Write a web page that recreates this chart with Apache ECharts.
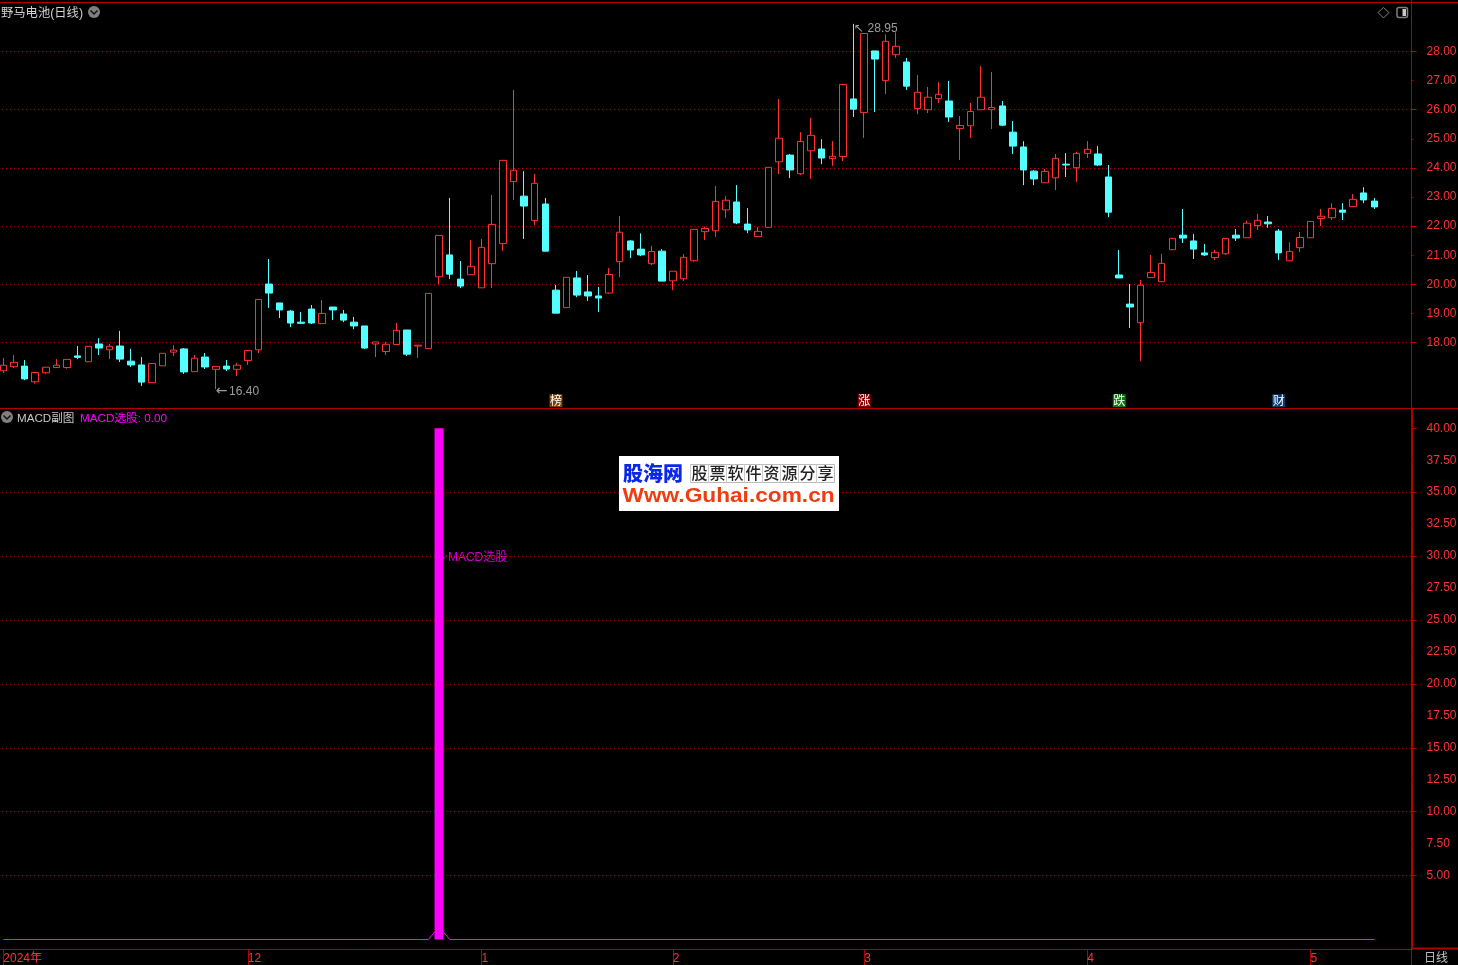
<!DOCTYPE html>
<html>
<head>
<meta charset="utf-8">
<style>html,body{margin:0;padding:0;background:#000}#c{width:1458px;height:965px}</style>
<script src="https://cdn.jsdelivr.net/npm/echarts@6/dist/echarts.min.js"></script>
</head>
<body>
<div id="c"></div>
<script>
const opens=[17.03,17.17,17.19,16.65,16.96,17.14,17.14,17.54,17.34,17.95,17.75,17.88,17.36,17.23,16.62,17.20,17.67,17.78,17.00,17.50,
17.08,17.19,17.08,17.38,17.75,20.01,19.36,19.08,18.70,19.15,18.65,19.22,18.98,18.70,18.57,17.95,17.69,17.93,18.43,17.88,
17.79,20.26,21.01,20.18,20.33,19.88,20.71,21.40,23.53,23.03,22.19,22.76,19.80,19.20,20.22,19.74,19.60,19.70,20.78,21.49,
21.21,20.71,21.14,20.12,20.19,20.81,21.81,21.84,22.56,22.83,22.07,21.64,21.96,24.21,24.44,23.80,24.59,24.65,24.32,24.39,
26.37,25.90,28.02,27.00,27.89,27.64,26.04,26.00,26.38,26.30,25.35,25.45,26.00,26.00,26.13,25.23,24.72,23.89,23.49,23.66,
24.13,24.01,24.50,24.48,23.69,20.32,19.32,18.68,20.23,20.09,21.19,21.69,21.49,21.08,20.92,21.05,21.69,21.60,22.02,22.14,
21.83,20.81,21.26,21.60,22.26,22.29,22.55,22.67,23.14,22.86];
const closes=[17.22,17.32,16.75,16.97,17.15,17.22,17.42,17.49,17.87,17.81,17.87,17.43,17.23,16.64,17.28,17.63,17.74,16.99,17.46,17.16,
17.18,17.09,17.22,17.73,19.48,19.70,19.12,18.67,18.66,18.67,19.00,19.12,18.77,18.57,17.81,18.02,17.94,18.42,17.60,17.91,
19.69,21.68,20.35,19.94,20.62,21.27,22.06,24.26,23.92,22.69,23.47,21.14,19.01,20.24,19.63,19.60,19.53,20.34,21.79,21.18,
21.01,21.13,20.11,20.45,20.93,21.89,21.92,22.85,22.89,22.11,21.87,21.82,24.02,25.02,23.93,24.91,25.12,24.34,24.40,26.87,
26.02,28.62,27.74,28.35,28.18,26.81,26.60,26.43,26.53,25.75,25.46,25.94,26.43,26.08,25.47,24.75,23.93,23.62,23.88,24.33,
24.10,24.50,24.64,24.10,22.48,20.22,19.22,19.97,20.41,20.72,21.58,21.59,21.21,21.01,21.10,21.58,21.59,22.10,22.20,22.08,
21.08,21.13,21.61,22.16,22.34,22.61,22.48,22.92,22.90,22.66];
const lows=[16.95,17.12,16.71,16.59,16.93,17.14,17.10,17.43,17.34,17.57,17.43,17.33,17.16,16.51,16.62,17.20,17.54,16.92,17.00,17.09,
16.40,17.02,16.85,17.23,17.64,19.19,18.84,18.53,18.64,18.64,18.65,18.77,18.70,18.46,17.78,17.50,17.57,17.93,17.54,17.47,
17.79,20.01,20.18,19.87,20.33,19.88,19.87,21.14,22.90,21.56,22.04,21.14,19.01,19.20,19.56,19.43,19.05,19.67,20.25,20.90,
20.97,20.66,20.11,19.80,20.11,20.78,21.52,21.63,22.28,22.07,21.76,21.64,21.96,23.79,23.65,23.76,23.62,24.13,24.07,24.24,
25.75,25.03,25.92,26.54,27.78,26.68,25.85,25.89,26.23,25.58,24.27,25.03,26.00,25.34,25.44,24.48,23.41,23.41,23.49,23.24,
23.69,23.52,24.34,24.07,22.31,20.22,18.50,17.36,20.23,20.09,21.19,21.42,20.87,20.97,20.84,21.01,21.49,21.60,21.87,21.94,
20.84,20.81,21.11,21.60,22.00,22.21,22.21,22.67,22.79,22.59];
const highs=[17.47,17.57,17.40,16.97,17.15,17.43,17.42,17.88,17.87,18.15,17.95,18.40,17.78,17.50,17.28,17.63,17.91,17.81,17.57,17.64,
17.18,17.40,17.30,17.73,19.48,20.87,19.36,19.12,19.05,19.29,19.46,19.22,19.12,18.88,18.57,18.02,18.02,18.67,18.43,17.91,
19.69,21.68,22.97,20.80,21.52,21.56,23.07,24.26,26.68,23.89,23.79,22.97,19.98,20.24,20.46,20.32,19.91,20.56,22.35,21.52,
21.75,21.32,21.21,20.45,21.04,21.89,21.98,23.38,23.03,23.41,22.62,21.97,24.02,26.37,24.48,25.23,25.72,24.99,24.92,26.87,
28.95,28.62,28.02,28.59,28.66,27.78,27.19,26.78,26.95,26.99,25.78,26.23,27.50,27.30,26.30,25.61,24.92,23.93,23.96,24.48,
24.51,24.55,24.92,24.75,24.10,21.18,20.01,20.15,21.01,21.04,21.58,22.59,21.73,21.39,21.18,21.58,21.90,22.18,22.42,22.35,
21.90,21.45,21.80,22.16,22.59,22.79,22.79,23.10,23.34,22.97];
const slotCount=133;
const monthMarks={0:'2024年',23:'12',45:'1',63:'2',81:'3',102:'4',123:'5'};
const priceTicksMajor=[18,20,22,24,26,28];
const priceTicksMinor=[19,21,23,25,27];
const macdLabels=[5,7.5,10,12.5,15,17.5,20,22.5,25,27.5,30,32.5,35,37.5,40];
const macdTicksMajor=[5,10,15,20,25,30,35,40];
const macdTicksMinor=[7.5,12.5,17.5,22.5,27.5,32.5,37.5];
const macdGridLevels=[5,10,15,20,25,30,35];
const priceNotes=[[20,16.40,'←','16.40','a'],[80,28.95,'↖','28.95','b']];
const noteOffsets=[[0,2.5],[0,5]];
const eventTags=[[52,16,'榜','#7a3e00'],[81,16,'涨','#8a0000'],[105,16,'跌','#0b7a0b'],[120,16,'财','#0a3a70']];
const macdBars=[[41,40]];
const macdLine=[[0,0],[40,0],[41,1],[42,0],[129,0]];
const macdNote=[[41,30,'MACD选股']];

const RED='#ff3232',CY='#54ffff',AX='#b00000',DOT='#b40000',GR='#c0c0c0',MG='#ff00ff';
const FF='"Liberation Sans","Noto Sans CJK SC",sans-serif';
const cats=Array.from({length:slotCount},(_,i)=>monthMarks[i]!==undefined?monthMarks[i]:'');
const isMark=i=>monthMarks[i]!==undefined;
const candle=opens.map((o,i)=>[o,closes[i],lows[i],highs[i]]);
const dotted={color:DOT,type:[1,3],width:1};
const vLine=(arr)=>({silent:true,symbol:'none',z:1,animation:false,label:{show:false},lineStyle:dotted,data:arr.map(v=>({yAxis:v}))});
const hl=(x1,y1,x2,y2,w)=>({type:'line',silent:true,shape:{x1,y1,x2,y2},style:{stroke:AX,lineWidth:w||1}});
const tx=(x,y,text,fill,size,extra)=>({type:'text',silent:true,x,y,style:Object.assign({text,fill,font:(size||12)+'px '+FF,verticalAlign:'middle'},extra||{})});
const chev=(cx,cy)=>[{type:'circle',silent:true,shape:{cx,cy,r:6},style:{fill:'#808080'}},
 {type:'polyline',silent:true,shape:{points:[[cx-3.5,cy-1.5],[cx,cy+2],[cx+3.5,cy-1.5]]},style:{stroke:'#111',fill:null,lineWidth:1.5}}];
const cellTexts='股票软件资源分享'.split('');
const graphics=[
 hl(0,2.5,1458,2.5),hl(0,408.5,1458,408.5),hl(1411.5,949,1411.5,965),hl(1412,948.5,1458,948.5,2),
 tx(1,13.5,'野马电池(日线)','#d0d0d0',12.3),
 ...chev(94,12),...chev(7,417),
 tx(17,418.5,'MACD副图','#c8c8c8',11.6),tx(80,418.5,'MACD选股: 0.00',MG,11.7),
 tx(1424,958.5,'日线','#c0c0c0',12),
 {type:'polygon',silent:true,shape:{points:[[1383.5,7.5],[1389,12.5],[1383.5,18],[1378,12.5]]},style:{stroke:'#808080',fill:null,lineWidth:1}},
 {type:'rect',silent:true,shape:{x:1397,y:7.5,width:10.5,height:10,r:2},style:{stroke:'#808080',fill:'#000',lineWidth:1.5}},
 {type:'rect',silent:true,shape:{x:1402.5,y:9,width:3.5,height:7},style:{fill:'#c8c8c8'}},
 {type:'rect',silent:true,z:50,shape:{x:619,y:456,width:220,height:55},style:{fill:'#fff'}},
 {type:'text',silent:true,z:51,x:623,y:473.5,style:{text:'股海网',fill:'#0a28e6',font:'900 20px "Noto Sans CJK SC"',verticalAlign:'middle'}},
 {type:'rect',silent:true,z:51,shape:{x:690.5,y:464.5,width:144,height:18},style:{stroke:'#bbb',fill:'#fff',lineWidth:1}},
 ...cellTexts.map((c,i)=>({type:'line',silent:true,z:51,shape:{x1:690.5+18*i,y1:464.5,x2:690.5+18*i,y2:482.5},style:{stroke:'#ccc',lineWidth:1}})),
 ...cellTexts.map((c,i)=>({type:'text',silent:true,z:52,x:699.5+18*i,y:472.5,style:{text:c,fill:'#222',font:'500 16px "Noto Sans CJK SC"',align:'center',verticalAlign:'middle'}})),
 {type:'text',silent:true,z:51,x:622.5,y:496.5,scaleX:1.134,style:{text:'Www.Guhai.com.cn',fill:'#f03c10',font:'bold 20px "Liberation Sans"',verticalAlign:'middle'}}
];
const chart=echarts.init(document.getElementById('c'),null,{renderer:'canvas'});
const yBase=(gi,min,max,w)=>({type:'value',gridIndex:gi,position:'right',min,max,scale:true,splitLine:{show:false},
 axisLine:{show:true,onZero:false,lineStyle:{color:AX,width:w||1}}});
chart.setOption({
 animation:false,backgroundColor:'#000',
 textStyle:{fontFamily:FF},
 graphic:graphics,
 grid:[{outerBoundsMode:'none',left:-2,width:1413.5,top:0.6,height:407.4},{outerBoundsMode:'none',left:-2,width:1413.5,top:409.1,height:540}],
 xAxis:[
  {type:'category',gridIndex:0,data:cats,show:false,boundaryGap:true},
  {type:'category',gridIndex:1,data:cats,boundaryGap:true,
   axisLine:{show:true,onZero:false,lineStyle:{color:AX}},
   axisTick:{show:true,alignWithLabel:true,length:16,interval:i=>isMark(i),lineStyle:{color:AX}},
   axisLabel:{show:true,interval:i=>isMark(i),color:RED,fontSize:12,align:'left',margin:4,padding:0,hideOverlap:false,fontFamily:FF},
   splitLine:{show:false}}
 ],
 yAxis:[
  Object.assign(yBase(0,15.75,29.75),{axisTick:{show:true,length:5,customValues:priceTicksMajor,lineStyle:{color:AX}},
   axisLabel:{show:true,color:RED,fontSize:12,margin:15,padding:[3,0,0,0],customValues:priceTicksMajor.concat(priceTicksMinor).sort((a,b)=>a-b),formatter:v=>v.toFixed(2),fontFamily:FF}}),
  Object.assign(yBase(0,15.75,29.75),{axisTick:{show:true,length:2,customValues:priceTicksMinor,lineStyle:{color:AX}},axisLabel:{show:false}}),
  Object.assign(yBase(1,-0.75,41.5,2),{axisTick:{show:true,length:5,customValues:macdTicksMajor,lineStyle:{color:AX}},
   axisLabel:{show:true,color:RED,fontSize:12,margin:15,padding:[3,0,0,0],customValues:macdLabels,formatter:v=>v.toFixed(2),fontFamily:FF}}),
  Object.assign(yBase(1,-0.75,41.5,2),{axisTick:{show:true,length:2,customValues:macdTicksMinor,lineStyle:{color:AX}},axisLabel:{show:false}})
 ],
 series:[
  {type:'candlestick',name:'K',xAxisIndex:0,yAxisIndex:0,data:candle,barWidth:7,z:3,
   itemStyle:{color:'#000',color0:CY,borderColor:RED,borderColor0:CY,borderWidth:1},
   markLine:vLine(priceTicksMajor)},
  {type:'scatter',xAxisIndex:0,yAxisIndex:0,data:priceNotes.map((n,i)=>({value:n,label:{offset:noteOffsets[i]}})),symbolSize:0,z:6,silent:true,
   label:{show:true,position:'right',distance:0,color:GR,fontSize:12,fontFamily:FF,formatter:p=>'{'+p.value[4]+'|'+p.value[2]+'}'+p.value[3],
   rich:{a:{fontFamily:'DejaVu Sans',fontSize:14,color:GR,padding:[0,1.5,0,0]},b:{fontFamily:'DejaVu Sans',fontSize:12,color:GR,padding:[0,4,0,0]}}}},
  {type:'scatter',xAxisIndex:0,yAxisIndex:0,data:eventTags.map(t=>({value:[t[0],t[1],t[2]],itemStyle:{color:t[3],opacity:1}})),
   symbol:'rect',symbolSize:13,z:6,silent:true,
   label:{show:true,position:'inside',color:'#fff',fontSize:12,fontFamily:'"Noto Sans CJK SC"',formatter:p=>p.value[2]}},
  {type:'line',xAxisIndex:1,yAxisIndex:2,data:macdLine,symbol:'none',z:3,silent:true,lineStyle:{color:MG,width:1},
   markLine:vLine(macdGridLevels)},
  {type:'bar',xAxisIndex:1,yAxisIndex:2,data:macdBars,barWidth:9,z:4,silent:true,itemStyle:{color:MG}},
  {type:'scatter',xAxisIndex:1,yAxisIndex:2,data:macdNote.map(n=>({value:n,label:{offset:[0,1.5]}})),symbolSize:0,z:6,silent:true,
   label:{show:true,position:'right',distance:3,color:MG,fontSize:12,fontFamily:FF,formatter:p=>'{a|↙}'+p.value[2],rich:{a:{fontSize:7,color:MG,fontFamily:'DejaVu Sans'}}}}
 ]
});
</script>
</body>
</html>
